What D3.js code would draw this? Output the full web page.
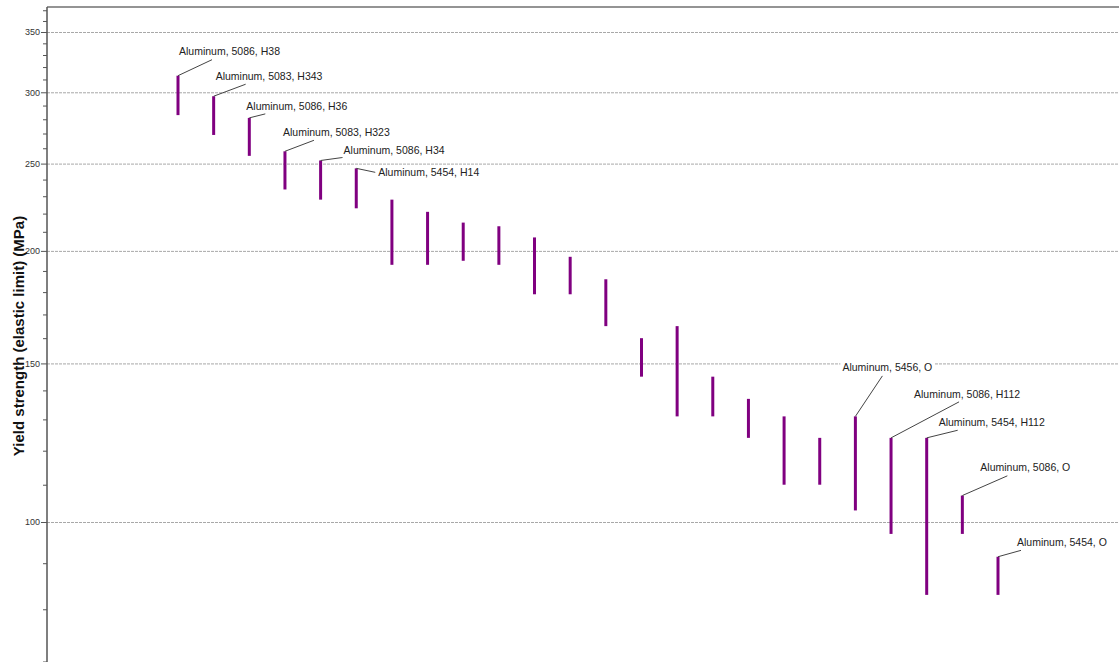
<!DOCTYPE html>
<html>
<head>
<meta charset="utf-8">
<title>Yield strength</title>
<script src="https://d3js.org/d3.v7.min.js"></script>
<style>
body { margin: 0; background: #fff; }
svg { display: block; font-family: "Liberation Sans", Arial, sans-serif; }
.tick text { fill: #333; font-size: 9px; }
.label text { fill: #222; font-size: 10.5px; }
</style>
</head>
<body>
<div class="chart"></div>
<script>
// yield strength ranges (MPa), one bar per material
var lows  = [283, 269, 255, 234, 228, 223, 193, 193, 195, 193, 179, 179,
             165, 145, 131, 131, 124, 110, 110, 103, 97, 83, 97, 83];
var highs = [313, 297, 281, 258, 252, 247, 228, 221, 215, 213, 207, 197,
             186, 160, 165, 145, 137, 131, 124, 131, 124, 124, 107, 91.5];
var names = ["Aluminum, 5086, H38", "Aluminum, 5083, H343", "Aluminum, 5086, H36",
             "Aluminum, 5083, H323", "Aluminum, 5086, H34", "Aluminum, 5454, H14",
             "", "", "", "", "", "", "", "", "", "", "", "", "",
             "Aluminum, 5456, O", "Aluminum, 5086, H112", "Aluminum, 5454, H112",
             "Aluminum, 5086, O", "Aluminum, 5454, O"];
var majorTicks = [100, 150, 200, 250, 300, 350];
var minorTicks = d3.range(70, 380, 10);

// where each label sits relative to its bar top: [dx, dy, leader end x, leader end y]
var labelPlacement = {
  0: [1, -24, 33, 8], 1: [2, -20, 30, 8], 2: [-3, -12, 19, 8], 3: [-2, -19, 31, 8],
  4: [23, -10, -1, 7], 5: [22, 4, -3, 0],
  19: [-13, -49, 40, 8.5], 20: [23, -44, 45, 8], 21: [12, -16, 19, 8.4],
  22: [18, -28, 27, 8.3], 23: [19, -14, 4, 7.6]
};

var W = 1119, H = 662, plotLeft = 47, plotTop = 7;

var svg = d3.select(".chart").append("svg")
    .attr("width", W)
    .attr("height", H);

var y = d3.scaleLog().domain([100, 350]).range([522, 32]);
y.domain([y.invert(H), y.invert(plotTop)]).range([H, plotTop]);

var x = d3.scaleLinear().domain([0, lows.length - 1]).range([178, 998]);

// grid
svg.append("g")
    .attr("transform", "translate(" + plotLeft + ",0)")
    .call(d3.axisLeft(y).tickValues(majorTicks).tickSize(-(W - plotLeft)).tickFormat(""))
    .call(function(g) {
      g.select(".domain").remove();
      g.selectAll(".tick line").attr("stroke", "#a8a8a8").attr("stroke-dasharray", "3,1");
    });

// top border
svg.append("line")
    .attr("x1", plotLeft).attr("x2", W).attr("y1", plotTop).attr("y2", plotTop)
    .attr("stroke", "#707070").attr("stroke-width", 1.5);

// y axis
svg.append("g")
    .attr("transform", "translate(" + plotLeft + ",0)")
    .call(d3.axisLeft(y).tickValues(minorTicks).tickSize(4).tickPadding(3)
      .tickFormat(function(d) { return majorTicks.indexOf(d) >= 0 ? d : ""; }))
    .call(function(g) {
      g.select(".domain").attr("stroke", "#555").attr("stroke-width", 1.5)
        .attr("d", "M0," + plotTop + "V" + H);
      g.selectAll(".tick line").attr("stroke", "#555")
        .attr("x2", function(d) { return majorTicks.indexOf(d) >= 0 ? -6 : -4; });
    });

svg.append("text")
    .attr("transform", "translate(24,336) rotate(-90)")
    .attr("text-anchor", "middle")
    .style("font-size", "15px")
    .style("font-weight", "bold")
    .attr("fill", "#111")
    .text("Yield strength (elastic limit) (MPa)");

// bars
svg.selectAll(".bar")
    .data(lows)
    .enter().append("line")
      .attr("class", "bar")
      .attr("x1", function(d, i) { return x(i); })
      .attr("x2", function(d, i) { return x(i); })
      .attr("y1", function(d) { return y(d); })
      .attr("y2", function(d, i) { return y(highs[i]); })
      .attr("stroke", "#800080")
      .attr("stroke-width", 3);

// labels
var labelled = d3.range(lows.length).filter(function(i) { return names[i]; });
var lab = svg.selectAll(".label")
    .data(labelled)
    .enter().append("g")
      .attr("class", "label");

lab.each(function(i) {
  var g = d3.select(this);
  var p = labelPlacement[i];
  var bx = x(i), by = y(highs[i]);
  var tx = bx + p[0], ty = by + p[1];
  g.append("line")
      .attr("x1", bx).attr("y1", by)
      .attr("x2", tx + p[2]).attr("y2", ty + p[3])
      .attr("stroke", "#444").attr("stroke-width", 1);
  var t = g.append("text")
      .attr("x", tx).attr("y", ty)
      .attr("dy", "0.35em")
      .text(names[i]);
  var bb = t.node().getBBox();
  g.insert("rect", "text")
      .attr("x", bb.x - 2).attr("y", bb.y - 1)
      .attr("width", bb.width + 4).attr("height", bb.height + 2)
      .attr("fill", "#fff");
});
</script>
</body>
</html>
